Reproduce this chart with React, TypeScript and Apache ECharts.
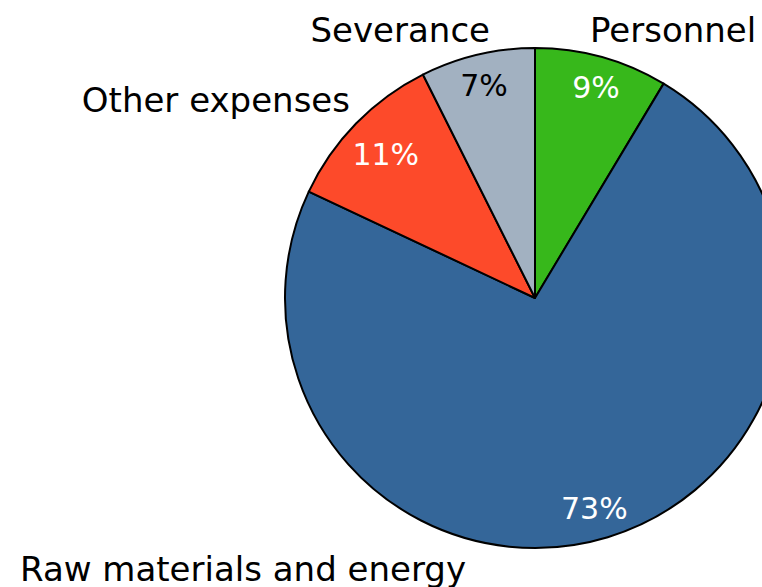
import React, { useEffect, useRef } from "react";
import * as echarts from "echarts";

const categories = ["Personnel", "Raw materials and energy", "Other expenses", "Severance"];
const values = [8.6, 73.4, 10.6, 7.4];
const colors = ["#37b81b", "#346699", "#fd4a2a", "#a2b1c1"];
const insideTextColors = ["#ffffff", "#ffffff", "#ffffff", "#000000"];

// layout of the outside name labels (x, y, align)
const nameLabelLayout: [number, number, string][] = [
  [590, 30, "left"],
  [20, 569, "left"],
  [350, 100, "right"],
  [490, 30, "right"],
];
// small nudges of the inside percentage labels (dx, dy)
const pctLabelNudge: [number, number][] = [
  [2, 2],
  [-5, -1],
  [9, 11],
  [0, 3],
];

export default function App() {
  const ref = useRef<HTMLDivElement>(null);
  useEffect(() => {
    if (!ref.current) return;
    const chart = echarts.init(ref.current, undefined, { renderer: "svg" });
    const font = "DejaVu Sans, Verdana, sans-serif";
    chart.setOption({
      animation: false,
      backgroundColor: "#ffffff",
      series: [
        {
          type: "pie",
          center: [535, 298],
          radius: [0, 250],
          startAngle: 90,
          clockwise: true,
          avoidLabelOverlap: false,
          silent: true,
          percentPrecision: 0,
          itemStyle: { borderColor: "#000000", borderWidth: 2 },
          label: {
            show: true,
            position: "outside",
            formatter: "{b}",
            fontFamily: font,
            fontSize: 34,
            color: "#000000",
          },
          labelLine: { show: false },
          labelLayout: (params: any) => {
            const l = nameLabelLayout[params.dataIndex];
            return { x: l[0], y: l[1], align: l[2], verticalAlign: "middle" };
          },
          data: categories.map((c, i) => ({
            name: c,
            value: values[i],
            itemStyle: { color: colors[i] },
          })),
        },
        {
          type: "pie",
          center: [535, 298],
          radius: [186, 250],
          startAngle: 90,
          clockwise: true,
          avoidLabelOverlap: false,
          silent: true,
          percentPrecision: 0,
          itemStyle: { color: "rgba(0,0,0,0)", borderWidth: 0 },
          label: {
            show: true,
            position: "inside",
            formatter: "{d}%",
            fontFamily: font,
            fontSize: 30,
          },
          labelLine: { show: false },
          labelLayout: (params: any) => {
            const n = pctLabelNudge[params.dataIndex];
            return { dx: n[0], dy: n[1] };
          },
          data: categories.map((c, i) => ({
            name: c,
            value: values[i],
            label: { color: insideTextColors[i] },
          })),
        },
      ],
    });
    return () => chart.dispose();
  }, []);
  return (
    <div
      ref={ref}
      style={{ position: "fixed", left: 0, top: 0, width: 762, height: 587 }}
    />
  );
}
